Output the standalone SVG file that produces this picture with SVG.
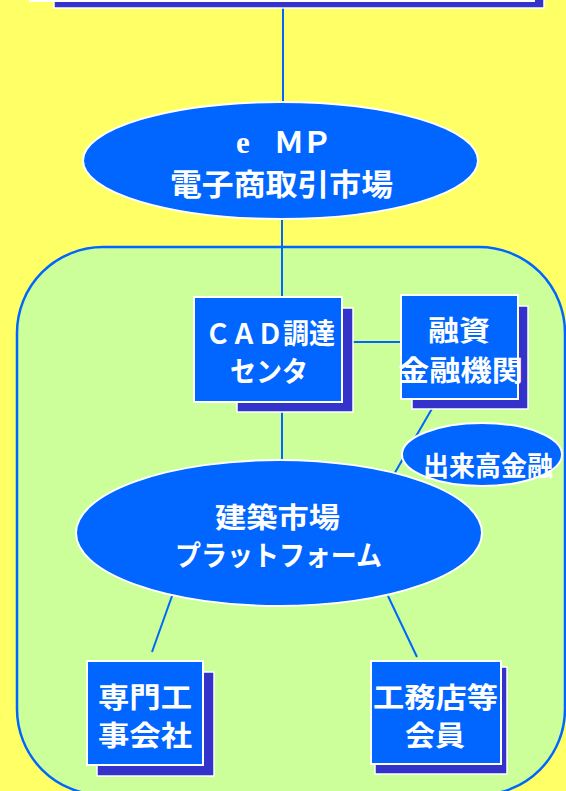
<svg xmlns="http://www.w3.org/2000/svg" width="566" height="791" viewBox="0 0 566 791">
<style>
.bg{fill:#ffff66}
.zone{fill:#ccff99;stroke:#0066ff;stroke-width:2.5}
.front{fill:#0066ff;stroke:#ffffff;stroke-width:2}
.shadow{fill:#3333cc;stroke:#ffffff;stroke-width:1.5}
.ell{fill:#0066ff;stroke:#ffffff;stroke-width:2}
.con{stroke:#0066ff;stroke-width:2;fill:none}
.t{fill:#ffffff;font-family:"Noto Sans CJK JP","Noto Sans CJK SC",sans-serif;font-weight:bold}
</style>
<rect class="bg" x="0" y="0" width="566" height="791"/>
<g id="zone">
<rect class="zone" x="17" y="247" width="548" height="548" rx="86" ry="86"/>
</g>
<g id="connectors">
<line class="con" x1="283" y1="0" x2="283" y2="104"/>
<line class="con" x1="282" y1="218" x2="282" y2="298"/>
<line class="con" x1="282" y1="402" x2="282" y2="462"/>
<line class="con" x1="342" y1="342" x2="402" y2="342"/>
<line class="con" x1="437" y1="400" x2="393" y2="476"/>
<line class="con" x1="172" y1="596" x2="152" y2="652"/>
<line class="con" x1="388" y1="596" x2="417" y2="657"/>
</g>
<g id="top-box">
<rect class="shadow" x="54" y="-90" width="490" height="98"/>
<rect class="front" x="30" y="-100" width="504" height="101"/>
</g>
<g id="emp">
<ellipse class="ell" cx="280.5" cy="160.5" rx="197.5" ry="58.5"/>
<text x="243" y="153" text-anchor="middle" fill="#ffffff" font-family="Liberation Serif, serif" font-weight="bold" font-size="31">e</text>
<text class="t" x="289" y="153" text-anchor="middle" font-size="30">Ｍ</text>
<text class="t" x="317" y="153" text-anchor="middle" font-size="30">Ｐ</text>
<text class="t" x="170" y="195" font-size="30" textLength="223" lengthAdjust="spacingAndGlyphs">電子商取引市場</text>
</g>
<g id="cad">
<rect class="shadow" x="237" y="308" width="116" height="104"/>
<rect class="front" x="194" y="297" width="148" height="105"/>
<text class="t" x="205" y="344" font-size="28" textLength="130" lengthAdjust="spacingAndGlyphs">ＣＡＤ調達</text>
<text class="t" x="230" y="382" font-size="28" textLength="78" lengthAdjust="spacingAndGlyphs">センタ</text>
</g>
<g id="finance">
<rect class="shadow" x="412" y="306" width="116" height="103"/>
<rect class="front" x="401" y="295" width="117" height="104"/>
<text class="t" x="428" y="341" font-size="28" textLength="62" lengthAdjust="spacingAndGlyphs">融資</text>
<text class="t" x="398" y="381" font-size="28" textLength="125" lengthAdjust="spacingAndGlyphs">金融機関</text>
</g>
<g id="dekidaka">
<ellipse class="ell" cx="482" cy="454.5" rx="80" ry="31.5"/>
<text class="t" x="423" y="476" font-size="27" textLength="130" lengthAdjust="spacingAndGlyphs">出来高金融</text>
</g>
<g id="platform">
<ellipse class="ell" cx="279" cy="533" rx="203" ry="73"/>
<text class="t" x="215" y="528" font-size="28" textLength="125" lengthAdjust="spacingAndGlyphs">建築市場</text>
<text class="t" x="175" y="566" font-size="28" textLength="207" lengthAdjust="spacingAndGlyphs">プラットフォーム</text>
</g>
<g id="senmon">
<rect class="shadow" x="97" y="672" width="117" height="104"/>
<rect class="front" x="87" y="661" width="116" height="104"/>
<text class="t" x="98" y="708" font-size="28" textLength="94" lengthAdjust="spacingAndGlyphs">専門工</text>
<text class="t" x="98" y="746" font-size="28" textLength="94" lengthAdjust="spacingAndGlyphs">事会社</text>
</g>
<g id="koumuten">
<rect class="shadow" x="375" y="667" width="132" height="107"/>
<rect class="front" x="371" y="661" width="130" height="103"/>
<text class="t" x="373" y="708" font-size="28" textLength="125" lengthAdjust="spacingAndGlyphs">工務店等</text>
<text class="t" x="405" y="746" font-size="28" textLength="60" lengthAdjust="spacingAndGlyphs">会員</text>
</g>
</svg>
